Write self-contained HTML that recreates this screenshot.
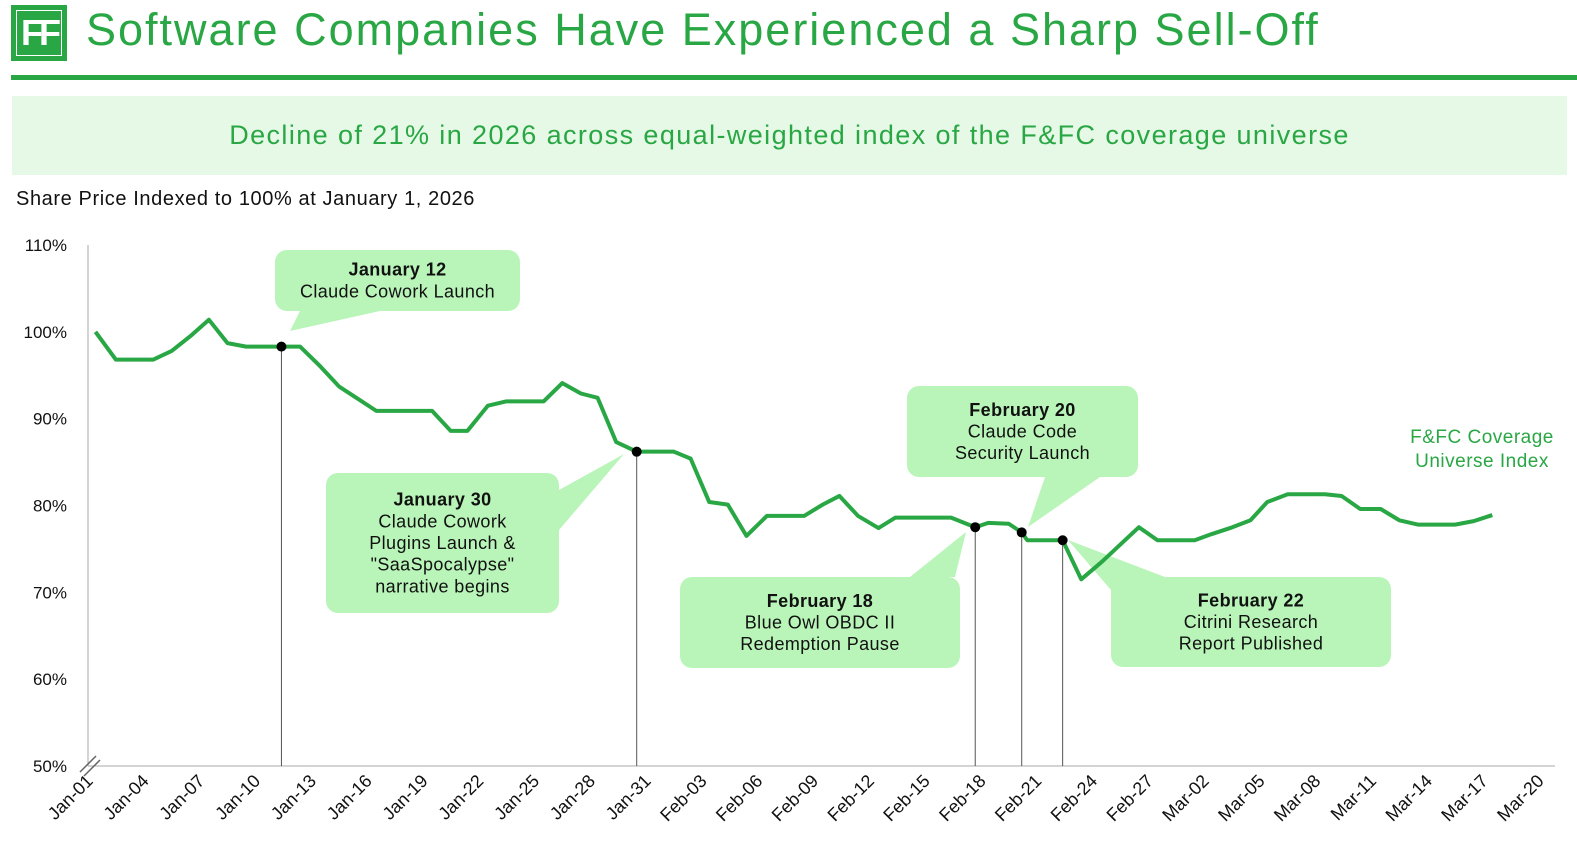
<!DOCTYPE html>
<html><head><meta charset="utf-8"><style>
body{margin:0;width:1577px;height:861px;background:#fff;font-family:"Liberation Sans",sans-serif;overflow:hidden;position:relative}
.abs{position:absolute}
</style></head><body>
<div class="abs" style="left:11px;top:5px;width:56px;height:56px;background:#29a744;">
 <div class="abs" style="left:5px;top:5px;width:44px;height:44px;border:1px solid #fff;color:#fff;font-size:36px;font-weight:bold;line-height:44px;text-align:center;letter-spacing:-4px">FF</div>
</div>
<div class="abs" style="left:86px;top:4px;font-size:45px;letter-spacing:2px;color:#29a744;white-space:nowrap">Software Companies Have Experienced a Sharp Sell-Off</div>
<div class="abs" style="left:11px;top:75px;width:1566px;height:5px;background:#29a744"></div>
<div class="abs" style="left:12px;top:96px;width:1555px;height:79px;background:#e6f9e6;color:#29a744;font-size:27px;letter-spacing:1.4px;text-align:center;line-height:79px;white-space:nowrap">Decline of 21% in 2026 across equal-weighted index of the F&amp;FC coverage universe</div>
<div class="abs" style="left:16px;top:188px;font-size:20px;letter-spacing:0.6px;color:#111">Share Price Indexed to 100% at January 1, 2026</div>
<svg class="abs" style="left:0;top:0" width="1577" height="861" id="chart"></svg>
<script>
const days=[0.4,1.5,3.5,4.5,5.5,6.5,7.5,8.5,10.4,11.4,12.5,13.5,14.5,15.5,18.5,19.5,20.4,21.5,22.5,24.5,25.5,26.5,27.4,28.4,29.5,31.5,32.4,33.4,34.4,35.4,36.5,38.5,39.5,40.4,41.4,42.5,43.4,46.4,47.7,48.4,49.5,50.2,50.5,52.4,53.4,54.5,55.4,56.5,57.5,59.5,60.4,61.4,62.5,63.4,64.5,66.5,67.4,68.4,69.5,70.5,71.5,73.5,74.5,75.5];
const values=[100,96.8,96.8,97.8,99.5,101.4,98.7,98.3,98.3,98.3,96,93.7,92.3,90.9,90.9,88.6,88.6,91.5,92,92,94.1,92.9,92.4,87.3,86.2,86.2,85.4,80.4,80.1,76.5,78.8,78.8,80.1,81.1,78.8,77.4,78.6,78.6,77.5,78,77.9,76.9,76,76,71.5,73.5,75.3,77.5,76,76,76.7,77.4,78.3,80.4,81.3,81.3,81.1,79.6,79.6,78.3,77.8,77.8,78.2,78.9];
const yTicks=[50,60,70,80,90,100,110];
const xTickLabels=["Jan-01","Jan-04","Jan-07","Jan-10","Jan-13","Jan-16","Jan-19","Jan-22","Jan-25","Jan-28","Jan-31","Feb-03","Feb-06","Feb-09","Feb-12","Feb-15","Feb-18","Feb-21","Feb-24","Feb-27","Mar-02","Mar-05","Mar-08","Mar-11","Mar-14","Mar-17","Mar-20"];
const eventDays=[10.4,29.5,47.7,50.2,52.4];
const eventValues=[98.3,86.2,77.5,76.9,76];
const NS="http://www.w3.org/2000/svg";
const svg=document.getElementById('chart');
const X=d=>88+d*18.6, Y=v=>766-(v-50)*8.683;
function mk(t,a,p){const e=document.createElementNS(NS,t);for(const k in a)e.setAttribute(k,a[k]);(p||svg).appendChild(e);return e;}
let ax=mk('line',{x1:88,y1:245,x2:88,y2:766,stroke:'#aaa','stroke-width':1});


let bx=mk('line',{x1:88,y1:766,x2:1555,y2:766,stroke:'#aaa','stroke-width':1});


mk('path',{d:'M80,772 L96,756 M84,776 L100,760',stroke:'#666','stroke-width':1.5,fill:'none'});
yTicks.forEach(v=>{const t=mk('text',{x:67,y:Y(v)+6,'text-anchor':'end','font-size':17,fill:'#111'});t.textContent=v+'%';

});
xTickLabels.forEach((l,i)=>{const x=X(i*3)+6,y=782;const t=mk('text',{x:x,y:y,'text-anchor':'end','font-size':18,fill:'#111',transform:`rotate(-45 ${x} ${y})`});t.textContent=l;

});
eventDays.forEach((d,i)=>{const l=mk('line',{x1:X(d),y1:Y(eventValues[i]),x2:X(d),y2:766,stroke:'#555','stroke-width':1});

});
const boxes=[
 [275,250,245,61,'M300,311 L380,311 L290,331',['<tspan font-weight="bold">January 12</tspan>','Claude Cowork Launch']],
 [326,473,233,140,'M559,490 L559,530 L624,454',['<tspan font-weight="bold">January 30</tspan>','Claude Cowork','Plugins Launch &amp;','"SaaSpocalypse"','narrative begins']],
 [680,577,280,91,'M910,577 L955,577 L966,532',['<tspan font-weight="bold">February 18</tspan>','Blue Owl OBDC II','Redemption Pause']],
 [907,386,231,91,'M1045,477 L1100,477 L1028,527',['<tspan font-weight="bold">February 20</tspan>','Claude Code','Security Launch']],
 [1111,577,280,90,'M1111,590 L1165,577 L1068,540',['<tspan font-weight="bold">February 22</tspan>','Citrini Research','Report Published']]];
boxes.forEach(b=>{const g=mk('g',{});


mk('path',{d:b[4],fill:'#b9f5b9'},g);
mk('rect',{x:b[0],y:b[1],width:b[2],height:b[3],rx:12,fill:'#b9f5b9'},g);
const n=b[5].length,lh=21.7,cy=b[1]+b[3]/2,sy=cy-(n-1)*lh/2+6;
b[5].forEach((s,i)=>{const t=mk('text',{x:b[0]+b[2]/2,y:sy+i*lh,'text-anchor':'middle','font-size':18,fill:'#111','letter-spacing':0.4},g);t.innerHTML=s;});});
const pts=days.map((d,i)=>X(d)+','+Y(values[i])).join(' ');
const pl=mk('polyline',{points:pts,fill:'none',stroke:'#29a744','stroke-width':4,'stroke-linejoin':'round'});


eventDays.forEach((d,i)=>{const c=mk('circle',{cx:X(d),cy:Y(eventValues[i]),r:5,fill:'#000'});

});
const lg=mk('text',{x:1482,y:443,'text-anchor':'middle','font-size':19,fill:'#29a744','letter-spacing':0.5});
lg.innerHTML='<tspan x="1482">F&amp;FC Coverage</tspan><tspan x="1482" dy="24">Universe Index</tspan>';


</script>
</body></html>
